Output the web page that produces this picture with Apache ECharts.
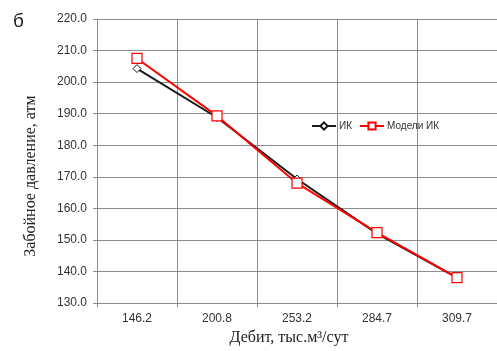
<!DOCTYPE html>
<html>
<head>
<meta charset="utf-8">
<script src="https://cdn.jsdelivr.net/npm/echarts@6/dist/echarts.min.js"></script>
<style>
  html, body { margin: 0; padding: 0; background: #fff; }
  #chart { width: 497px; height: 351px; }
</style>
</head>
<body>
<div id="chart"></div>
<script>
// Дебит скважины, тыс. м3/сут
const categories = ['146.2', '200.8', '253.2', '284.7', '309.7'];
// Забойное давление, атм
const ikValues = [204.3, 188.8, 169.3, 152.0, 138.1];
const modelValues = [207.5, 189.3, 168.0, 152.3, 138.1];
const seriesNames = ['ИК', 'Модели ИК'];

const chart = echarts.init(document.getElementById('chart'), null, { renderer: 'canvas' });

const gridColor = '#8c8c8c';
const sans = '"Liberation Sans", Arial, sans-serif';
const serif = '"Liberation Serif", "Times New Roman", serif';

chart.setOption({
  animation: false,
  backgroundColor: '#ffffff',
  graphic: [{
    type: 'text',
    left: 13,
    top: 12,
    style: { text: 'б', font: '19px "Liberation Sans", Arial, sans-serif', fill: '#222' }
  }],
  legend: {
    left: 306,
    top: 116,
    itemGap: 7,
    itemWidth: 24,
    itemHeight: 9,
    textStyle: { fontSize: 10, color: '#333', fontFamily: sans, padding: [0, 0, 0, -2] },
    data: seriesNames
  },
  grid: { left: 97, top: 19, bottom: 44, width: 407, containLabel: false },
  xAxis: {
    type: 'category',
    data: categories,
    boundaryGap: true,
    name: 'Дебит, тыс.м³/сут',
    nameLocation: 'middle',
    nameGap: 26,
    nameTextStyle: { fontSize: 16, color: '#222', fontFamily: serif, padding: [0, 16, 0, 0] },
    axisLine: { lineStyle: { color: gridColor, width: 1 } },
    axisTick: { show: true, length: 4, lineStyle: { color: gridColor } },
    axisLabel: { fontSize: 12, color: '#333', margin: 10, fontFamily: sans },
    splitLine: { show: true, lineStyle: { color: gridColor, width: 1 } }
  },
  yAxis: {
    type: 'value',
    min: 130,
    max: 220,
    interval: 10,
    name: 'Забойное давление, атм',
    nameLocation: 'middle',
    nameGap: 58,
    nameTextStyle: { fontSize: 16, color: '#222', fontFamily: serif, padding: [0, 30, 0, 0] },
    axisLine: { show: true, lineStyle: { color: gridColor, width: 1 } },
    axisTick: { show: true, length: 4, lineStyle: { color: gridColor } },
    axisLabel: {
      fontSize: 12, color: '#333', margin: 10,
      fontFamily: sans,
      formatter: v => v.toFixed(1)
    },
    splitLine: { show: true, lineStyle: { color: gridColor, width: 1 } }
  },
  series: [
    {
      name: seriesNames[0],
      type: 'line',
      data: ikValues,
      symbol: 'diamond',
      symbolSize: 8,
      showAllSymbol: true,
      lineStyle: { color: '#1a1a1a', width: 2 },
      itemStyle: { color: '#ffffff', borderColor: '#1a1a1a', borderWidth: 1 },
      z: 2
    },
    {
      name: seriesNames[1],
      type: 'line',
      data: modelValues,
      symbol: 'rect',
      symbolSize: 10,
      showAllSymbol: true,
      lineStyle: { color: '#ff0000', width: 2 },
      itemStyle: { color: '#ffffff', borderColor: '#ff0000', borderWidth: 1.2 },
      z: 3
    }
  ]
});
</script>
</body>
</html>
